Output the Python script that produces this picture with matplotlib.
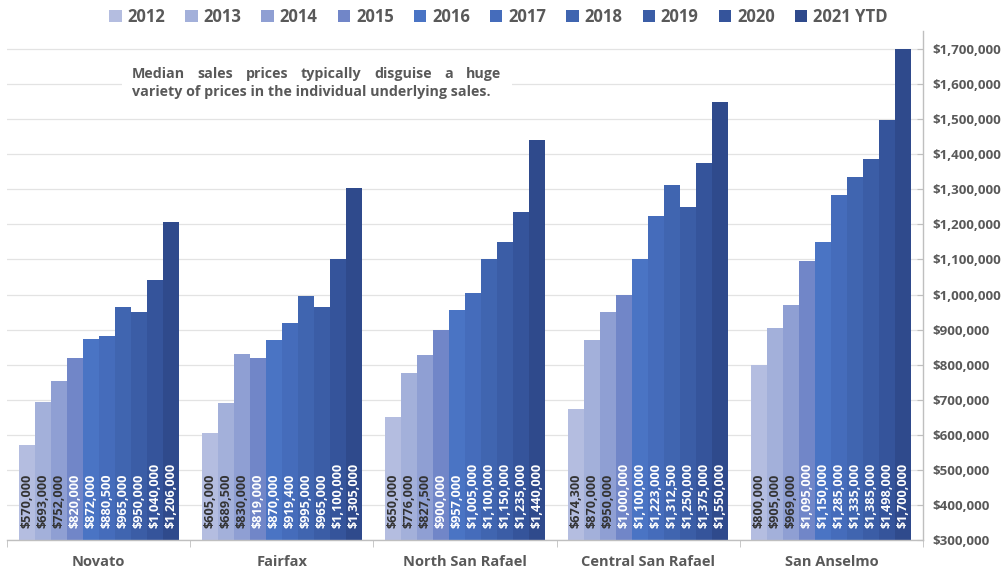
import matplotlib
matplotlib.use("Agg")
import matplotlib.pyplot as plt
from matplotlib.patches import Rectangle
from matplotlib.ticker import FuncFormatter, FixedLocator
import numpy as np

plt.rcParams['font.family'] = ['Open Sans', 'DejaVu Sans']
plt.rcParams['font.weight'] = 'bold'

towns = ["Novato", "Fairfax", "North San Rafael", "Central San Rafael", "San Anselmo"]
years = ["2012", "2013", "2014", "2015", "2016", "2017", "2018", "2019", "2020", "2021 YTD"]

# median price per town, one list per year
p2012 = [570000, 605000, 650000, 674300, 800000]
p2013 = [693000, 689500, 776000, 870000, 905000]
p2014 = [752000, 830000, 827500, 950000, 969000]
p2015 = [820000, 819000, 900000, 1000000, 1095000]
p2016 = [872000, 870000, 957000, 1100000, 1150000]
p2017 = [880500, 919400, 1005000, 1223000, 1285000]
p2018 = [965000, 995000, 1100000, 1312500, 1335000]
p2019 = [950000, 965000, 1150000, 1250000, 1385000]
p2020 = [1040000, 1100000, 1235000, 1375000, 1498000]
p2021 = [1206000, 1305000, 1440000, 1550000, 1700000]
series = [p2012, p2013, p2014, p2015, p2016, p2017, p2018, p2019, p2020, p2021]

colors = ["#b4bde0", "#a3b0da", "#8f9fd3", "#7186c8", "#4a74c4",
          "#456cbb", "#4065b0", "#3b5da6", "#35549b", "#2f4a8c"]
label_colors = ["#333333"] * 3 + ["white"] * 7
gray = "#595959"

fig = plt.figure(figsize=(10.07, 5.74), dpi=100)
ax = fig.add_axes([0.00695, 0.0592, 0.9097, 0.886])

x = np.arange(len(towns))
width = 0.0873
for i, (vals, c) in enumerate(zip(series, colors)):
    xs = x + (i - 4.5) * width
    ax.bar(xs, vals, width=width, color=c, label=years[i], zorder=2)
    for xi, v in zip(xs, vals):
        ax.annotate(f"${v:,.0f}", xy=(xi, 300000), xytext=(0, 8.5),
                    textcoords="offset points", rotation=90,
                    ha="center", va="bottom", fontsize=9.1,
                    color=label_colors[i], fontweight="bold", zorder=3)

ax.set_xlim(-0.5, 4.5)
ax.set_ylim(300000, 1750000)
ax.yaxis.tick_right()
ax.yaxis.set_major_locator(FixedLocator(np.arange(300000, 1700001, 100000)))
ax.yaxis.set_major_formatter(FuncFormatter(lambda v, p: f"${v:,.0f}"))
ax.tick_params(axis="y", direction="in", length=4, color="#bfbfbf",
               labelsize=9.6, labelcolor=gray, pad=7)
ax.grid(axis="y", color="#e3e3e3", linewidth=0.9, zorder=0)
ax.set_axisbelow(True)

ax.set_xticks(x)
ax.set_xticklabels(towns, fontsize=10.5, color=gray, fontweight="bold")
ax.set_xticks(np.arange(-0.5, 5, 1), minor=True)
ax.tick_params(axis="x", which="major", length=0, pad=11)
ax.tick_params(axis="x", which="minor", length=5, color="#bfbfbf", direction="out")

for s in ["top", "left"]:
    ax.spines[s].set_visible(False)
for s in ["bottom", "right"]:
    ax.spines[s].set_color("#bfbfbf")
    ax.spines[s].set_linewidth(1)

fig.legend(loc="upper center", bbox_to_anchor=(0.495, 1.012), ncol=10,
           frameon=False, handlelength=0.75, handleheight=0.75,
           handletextpad=0.35, columnspacing=1.2, labelcolor=gray,
           prop={"weight": "bold", "size": 12})

# note box, first line justified word by word
fig.add_artist(Rectangle((122 / 1007, 1 - 108 / 574), 390 / 1007, 48 / 574,
                         transform=fig.transFigure, facecolor="white",
                         edgecolor="none", zorder=1))
line1 = "Median sales prices typically disguise a huge"
line2 = "variety of prices in the individual underlying sales."
x0, x1 = 132 / 1007, 501 / 1007
fig.canvas.draw()
renderer = fig.canvas.get_renderer()
words = [fig.text(0, 1 - 74 / 574, w, fontsize=10.3, color=gray, fontweight="bold",
                  va="center", ha="left", zorder=2) for w in line1.split()]
wpx = [t.get_window_extent(renderer).width / fig.bbox.width for t in words]
gap = (x1 - x0 - sum(wpx)) / (len(words) - 1)
pos = x0
for t, w in zip(words, wpx):
    t.set_x(pos)
    pos += w + gap
fig.text(x0, 1 - 92 / 574, line2, fontsize=10.3, color=gray, fontweight="bold",
         va="center", ha="left", zorder=2)

fig.savefig("out.png", dpi=100)
